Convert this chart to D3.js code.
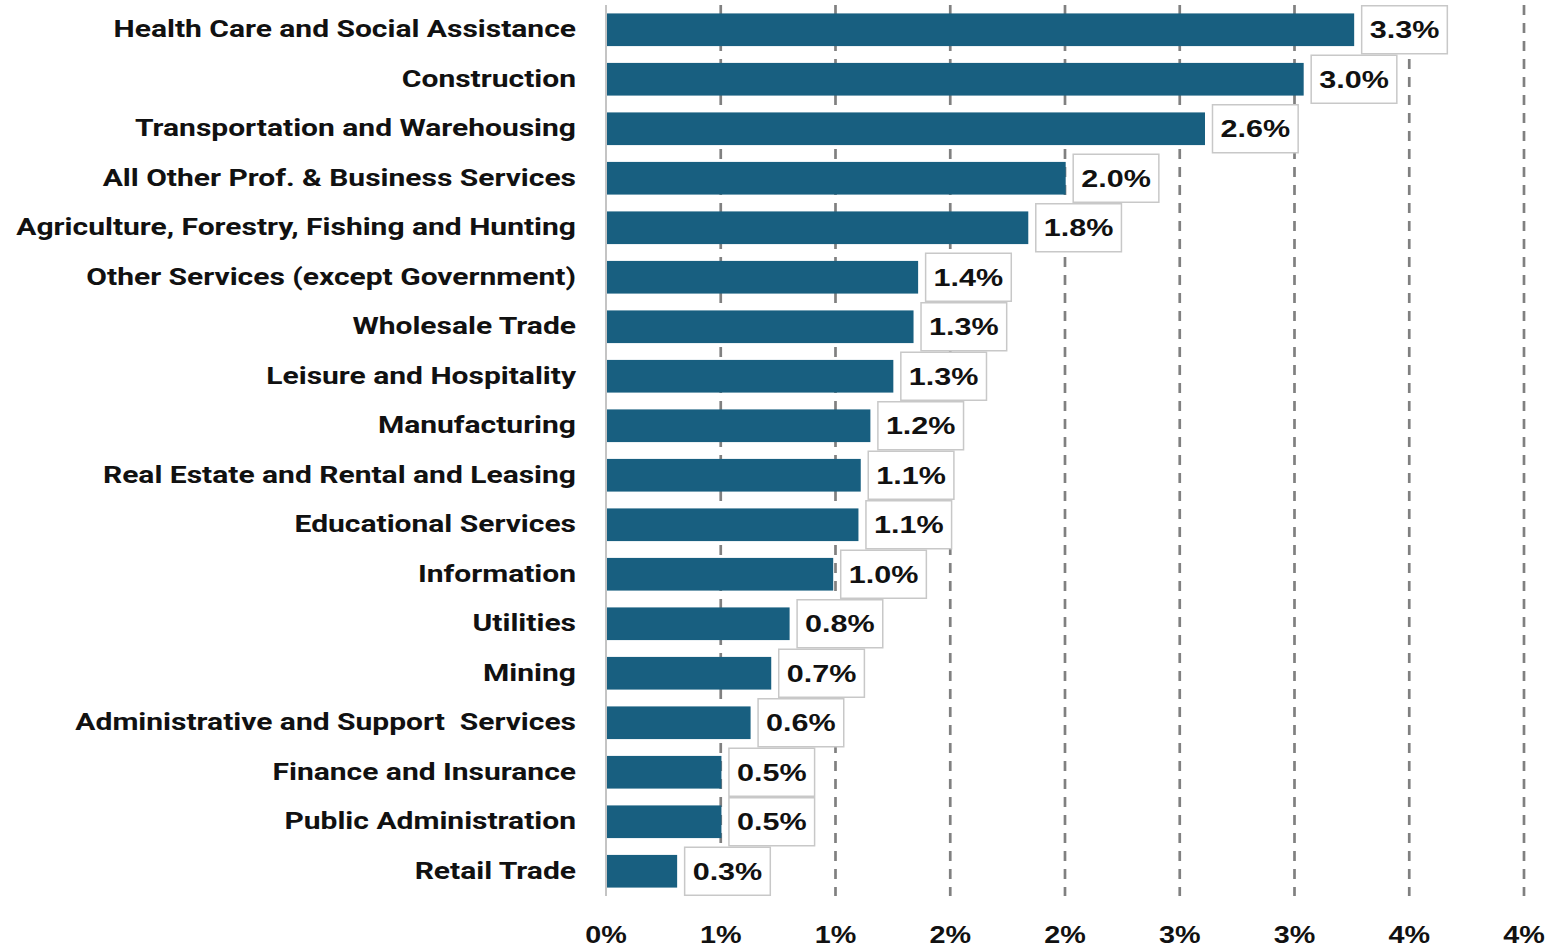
<!DOCTYPE html>
<html>
<head>
<meta charset="utf-8">
<script src="https://cdn.jsdelivr.net/npm/d3@7"></script>
<style>
  body { margin: 0; background: #fff; }
  svg { display: block; }
</style>
</head>
<body>
<div id="chart"></div>
<script>
var industries = [
    'Health Care and Social Assistance',
    'Construction',
    'Transportation and Warehousing',
    'All Other Prof. & Business Services',
    'Agriculture, Forestry, Fishing and Hunting',
    'Other Services (except Government)',
    'Wholesale Trade',
    'Leisure and Hospitality',
    'Manufacturing',
    'Real Estate and Rental and Leasing',
    'Educational Services',
    'Information',
    'Utilities',
    'Mining',
    'Administrative and Support  Services',
    'Finance and Insurance',
    'Public Administration',
    'Retail Trade'
];

// share, in percent
var shares = [3.26, 3.04, 2.61, 2.003, 1.84, 1.36, 1.34, 1.252, 1.152, 1.11, 1.10, 0.99, 0.80, 0.72, 0.63, 0.503, 0.503, 0.31];

var tickValues = [0, 0.5, 1, 1.5, 2, 2.5, 3, 3.5, 4];

var data = industries.map(function(d, i) {
    return { name: d, value: shares[i] };
});

// note: "top" is taken by window.top, so plotTop / plotBottom
var width = 1550,
    height = 950,
    plotLeft = 606,
    plotRight = 1524,
    plotTop = 5,
    plotBottom = 896;

var svg = d3.select('#chart')
    .append('svg')
    .attr('width', width)
    .attr('height', height);

var x = d3.scaleLinear()
    .domain([0, 4])
    .range([plotLeft, plotRight]);

var y = d3.scaleBand()
    .domain(industries)
    .range([plotTop, plotBottom])
    .paddingInner(0.34)
    .paddingOuter(0.17);

// dashed vertical gridlines
svg.append('g')
    .selectAll('line')
    .data(tickValues.slice(1))
    .enter()
    .append('line')
    .attr('x1', function(d) { return x(d); })
    .attr('x2', function(d) { return x(d); })
    .attr('y1', plotTop)
    .attr('y2', plotBottom)
    .attr('stroke', '#808080')
    .attr('stroke-width', 2.7)
    .attr('stroke-dasharray', '10,8');

// bars
svg.append('g')
    .selectAll('rect')
    .data(data)
    .enter()
    .append('rect')
    .attr('x', x(0))
    .attr('y', function(d) { return y(d.name); })
    .attr('width', function(d) { return x(d.value) - x(0); })
    .attr('height', y.bandwidth())
    .attr('fill', '#185f80');

// axis line
svg.append('line')
    .attr('x1', x(0))
    .attr('x2', x(0))
    .attr('y1', plotTop)
    .attr('y2', plotBottom)
    .attr('stroke', '#c4c4c4')
    .attr('stroke-width', 2);

// category labels (stretched a bit wider, like the source)
var catG = svg.append('g')
    .selectAll('g')
    .data(data)
    .enter()
    .append('g');

var catText = catG.append('text')
    .attr('text-anchor', 'end')
    .style('font-family', 'Roboto, "Liberation Sans", sans-serif')
    .style('font-weight', 700)
    .style('font-size', '24.5px')
    .style('fill', '#111')
    .style('white-space', 'pre')
    .text(function(d) { return d.name; });

var longest = 0;
catText.each(function() {
    longest = Math.max(longest, this.getComputedTextLength());
});
var catStretch = 560 / longest;

catG.attr('transform', function(d) {
    return 'translate(576,' + (y(d.name) + y.bandwidth() / 2 + 7.5) + ') scale(' + catStretch + ',1)';
});

// value labels with boxes
var fmt = d3.format('.1f');
var valStretch = 1.3;

var valG = svg.append('g')
    .selectAll('g')
    .data(data)
    .enter()
    .append('g')
    .attr('transform', function(d) {
        return 'translate(' + (x(d.value) + 7.5) + ',' + (y(d.name) + y.bandwidth() / 2) + ')';
    });

valG.append('rect')
    .attr('fill', '#fff')
    .attr('stroke', '#c8c8c8')
    .attr('stroke-width', 1.5);

var valText = valG.append('text')
    .style('font-family', '"Liberation Sans", Arial, sans-serif')
    .style('font-weight', 700)
    .style('font-size', '23.5px')
    .style('fill', '#111')
    .text(function(d) { return fmt(d.value) + '%'; });

valText.each(function() {
    var w = this.getComputedTextLength() * valStretch;
    d3.select(this.parentNode).select('rect')
        .attr('x', 0)
        .attr('y', -24)
        .attr('width', w + 16)
        .attr('height', 48);
    d3.select(this)
        .attr('transform', 'translate(8,8.5) scale(' + valStretch + ',1)');
});

// bottom tick labels
svg.append('g')
    .selectAll('g')
    .data(tickValues)
    .enter()
    .append('g')
    .attr('transform', function(d) {
        return 'translate(' + x(d) + ',943) scale(1.25,1)';
    })
    .append('text')
    .attr('text-anchor', 'middle')
    .style('font-family', '"Liberation Sans", Arial, sans-serif')
    .style('font-weight', 700)
    .style('font-size', '23px')
    .style('fill', '#111')
    .text(function(d) { return d3.format('.0f')(d) + '%'; });
</script>
</body>
</html>
